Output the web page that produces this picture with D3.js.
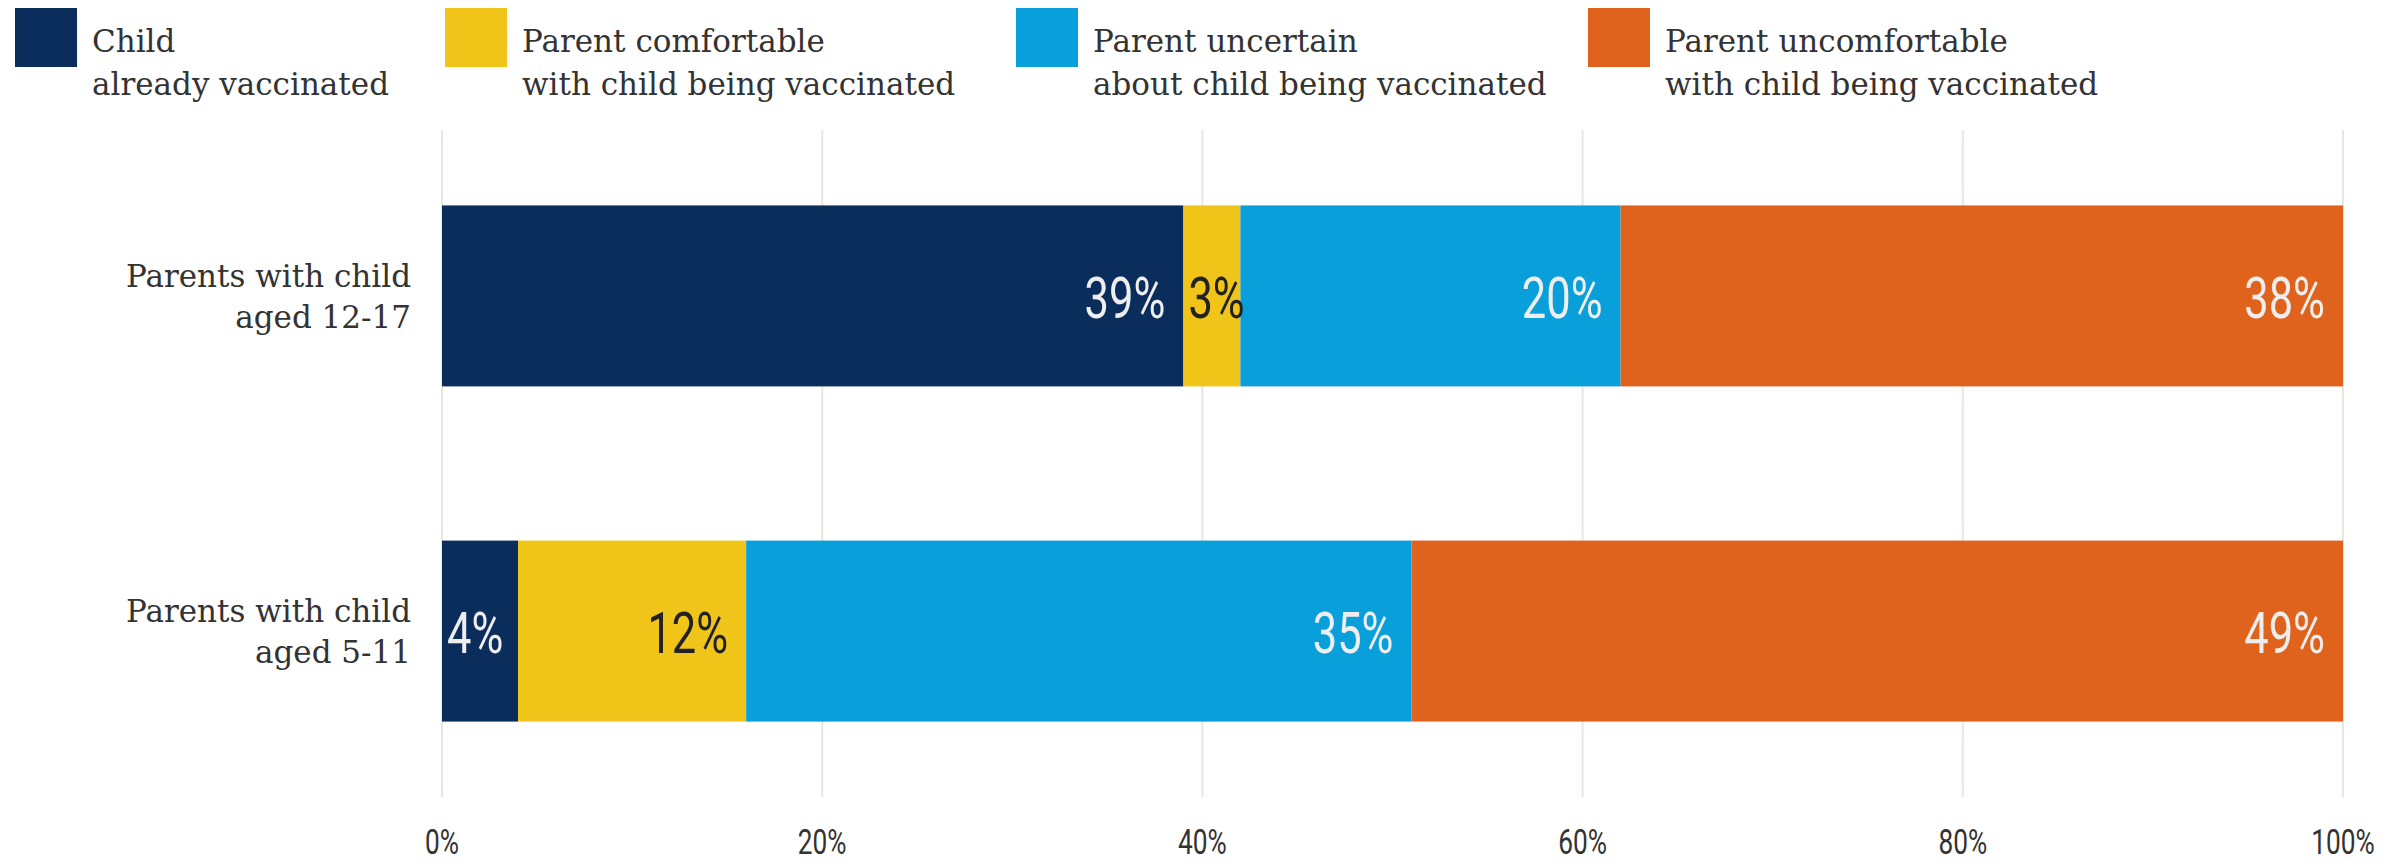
<!DOCTYPE html>
<html><head><meta charset="utf-8">
<script src="https://cdn.jsdelivr.net/npm/d3@7"></script>
<style>
html,body{margin:0;padding:0;background:#fff;}
svg{display:block;}
.serif{font-family:"DejaVu Serif";fill:#333;}
.cond{font-family:Roboto,"Liberation Sans";}
</style></head>
<body>
<script>
const categories = ["Parents with child\naged 12-17", "Parents with child\naged 5-11"];
const seriesNames = ["Child\nalready vaccinated", "Parent comfortable\nwith child being vaccinated", "Parent uncertain\nabout child being vaccinated", "Parent uncomfortable\nwith child being vaccinated"];
const seriesKeys = ["vaccinated", "comfortable", "uncertain", "uncomfortable"];
const vaccinated = [39, 4];
const comfortable = [3, 12];
const uncertain = [20, 35];
const uncomfortable = [38, 49];
const tickValues = [0, 20, 40, 60, 80, 100];
const colors = ["#0a2d5c", "#f0c419", "#089fdb", "#e0631d"];
const labelColors = ["#eeeeee", "#222", "#eeeeee", "#eeeeee"];

const W = 2404, H = 863;
const svg = d3.select("body").append("svg").attr("width", W).attr("height", H);

const rows = categories.map((c, i) => ({cat: c, vaccinated: vaccinated[i], comfortable: comfortable[i], uncertain: uncertain[i], uncomfortable: uncomfortable[i]}));
const stack = d3.stack().keys(seriesKeys)(rows);

const x = d3.scaleLinear().domain([0, 100]).range([442, 2343]);
const y = d3.scaleBand().domain(categories).range([130, 797]).paddingInner(0.46).paddingOuter(0.225);

// gridlines
svg.append("g").selectAll("line").data(tickValues).join("line")
  .attr("x1", d => x(d)).attr("x2", d => x(d))
  .attr("y1", 130).attr("y2", 797)
  .attr("stroke", "#ebe7df").attr("stroke-width", 2);

// axis labels
const xAxis = d3.axisBottom(x).tickValues(tickValues).tickFormat(d => d + "%").tickSize(0);
const ax = svg.append("g").attr("transform", "translate(0,797)").call(xAxis);
ax.select(".domain").remove();
ax.selectAll(".tick").each(function(d){
  const g = d3.select(this);
  g.attr("transform", null);
  g.select("text").attr("class", "cond").attr("font-size", 35).attr("fill", "#333")
    .attr("x", 0).attr("y", 0).attr("dy", 0)
    .attr("transform", `translate(${x(d)},57) scale(0.75,1)`).attr("text-anchor","middle");
});

// bars
const layers = svg.append("g").selectAll("g").data(stack).join("g").attr("fill", (d, i) => colors[i]);
layers.selectAll("rect").data(d => d.map(v => ({v, key: d.key}))).join("rect")
  .attr("x", d => x(d.v[0])).attr("width", d => x(d.v[1]) - x(d.v[0]))
  .attr("y", d => y(d.v.data.cat)).attr("height", y.bandwidth());

// value labels
stack.forEach((layer, li) => {
  layer.forEach(v => {
    const val = v[1] - v[0];
    const t = svg.append("text").attr("class", "cond").attr("font-size", 58)
      .attr("fill", labelColors[li]).attr("dominant-baseline", "central")
      .text(val + "%");
    const w = t.node().getComputedTextLength() * 0.75;
    const x0 = x(v[0]), x1 = x(v[1]);
    const cy = y(v.data.cat) + y.bandwidth() / 2 + 2;
    let tx;
    if (w + 18 + 5 <= x1 - x0) tx = x1 - 18 - w; else tx = x0 + 5;
    t.attr("transform", `translate(${tx},${cy}) scale(0.75,1)`);
  });
});

// category labels
categories.forEach(c => {
  const lines = c.split("\n");
  const cy = y(c) + y.bandwidth() / 2;
  const t = svg.append("text").attr("class", "serif").attr("font-size", 31).attr("text-anchor", "end");
  lines.forEach((l, i) => {
    t.append("tspan").attr("x", 411).attr("y", cy - 9 + i * 41).text(l);
  });
});

// legend
const legX = [15, 445, 1016, 1588];
seriesNames.forEach((n, i) => {
  svg.append("rect").attr("x", legX[i]).attr("y", 8).attr("width", 62).attr("height", 59).attr("fill", colors[i]);
  const t = svg.append("text").attr("class", "serif").attr("font-size", 31);
  n.split("\n").forEach((l, j) => {
    t.append("tspan").attr("x", legX[i] + 77).attr("y", 52 + j * 43).text(l);
  });
});
</script>
</body></html>
